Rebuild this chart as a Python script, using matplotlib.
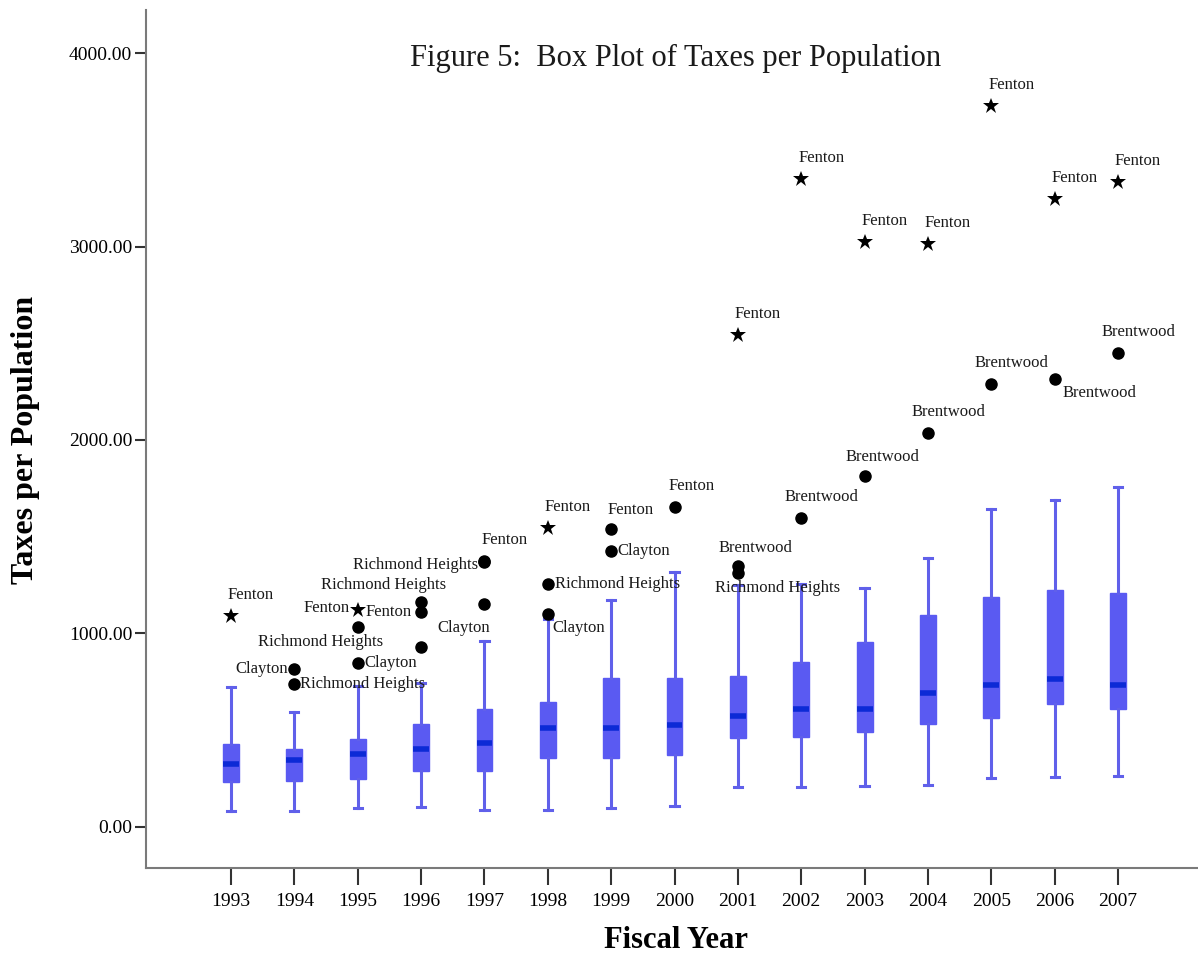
import matplotlib
matplotlib.use("Agg")
import matplotlib.pyplot as plt

years = list(range(1993, 2008))

# box statistics (taxes per population)
whis_lo = [81, 81, 98, 103, 86, 86, 95, 107, 204, 207, 212, 216, 250, 255, 262]
q1 = [230, 238, 247, 288, 290, 354, 357, 371, 457, 466, 488, 531, 561, 633, 607]
medians = [324, 345, 376, 402, 431, 509, 509, 526, 573, 607, 607, 693, 730, 762, 730]
q3 = [428, 400, 454, 531, 609, 643, 768, 768, 780, 851, 954, 1095, 1190, 1225, 1211]
whis_hi = [724, 592, 728, 745, 962, 1075, 1173, 1318, 1250, 1255, 1233, 1388, 1644, 1690, 1759]

# outliers: year, value, kind ('o' outlier, '*' extreme), case label
out_years = [1993, 1994, 1994, 1995, 1995, 1995, 1996, 1996, 1996,
             1997, 1997, 1997, 1998, 1998, 1998, 1999, 1999, 2000,
             2001, 2001, 2001, 2002, 2002, 2003, 2003, 2004, 2004,
             2005, 2005, 2006, 2006, 2007, 2007]
out_values = [1090, 816, 738, 1120, 1035, 848, 1161, 1109, 928,
              1372, 1368, 1150, 1547, 1256, 1100, 1540, 1428, 1655,
              2544, 1349, 1311, 3349, 1595, 3026, 1814, 3014, 2035,
              3725, 2290, 3246, 2316, 3332, 2449]
out_kinds = ['*', 'o', 'o', '*', 'o', 'o', 'o', 'o', 'o',
             'o', 'o', 'o', '*', 'o', 'o', 'o', 'o', 'o',
             '*', 'o', 'o', '*', 'o', '*', 'o', '*', 'o',
             '*', 'o', '*', 'o', '*', 'o']
out_labels = ['Fenton', 'Clayton', 'Richmond Heights', 'Fenton', 'Richmond Heights',
              'Clayton', 'Richmond Heights', 'Fenton', '',
              'Fenton', 'Richmond Heights', 'Clayton', 'Fenton', 'Richmond Heights',
              'Clayton', 'Fenton', 'Clayton', 'Fenton',
              'Fenton', 'Brentwood', 'Richmond Heights', 'Fenton', 'Brentwood',
              'Fenton', 'Brentwood', 'Fenton', 'Brentwood',
              'Fenton', 'Brentwood', 'Fenton', 'Brentwood', 'Fenton', 'Brentwood']

# where each label sits relative to its point (pixels, alignment)
ABOVE = (20, 21, 'center')
label_place = [ABOVE, (-6, 0, 'right'), (6, 0, 'left'), (-8, 2, 'right'), (25, -15, 'right'),
               (7, 0, 'left'), (25, 17, 'right'), (-9, 0, 'right'), ABOVE,
               ABOVE, (-6, -3, 'right'), (-21, -24, 'center'), ABOVE, (7, 0, 'left'),
               (31, -14, 'center'), (19, 19, 'center'), (6, 0, 'left'), (17, 21, 'center'),
               ABOVE, (18, 18, 'center'), (40, -15, 'center'), ABOVE, ABOVE,
               ABOVE, (18, 19, 'center'), ABOVE, ABOVE,
               ABOVE, ABOVE, ABOVE, (45, -14, 'center'), ABOVE, ABOVE]

BOX = '#5a5af2'
MED = '#0c2ad6'
SERIF = ['Liberation Serif', 'DejaVu Serif']

fig = plt.figure(figsize=(11.98, 9.57), dpi=100)
ax = fig.add_axes([146 / 1198, 89 / 957, 1 - 146 / 1198, (868 - 10) / 957])

stats = []
for i, y in enumerate(years):
    stats.append({'label': str(y), 'whislo': whis_lo[i], 'q1': q1[i], 'med': medians[i],
                  'q3': q3[i], 'whishi': whis_hi[i], 'fliers': []})

pos = list(range(1, len(years) + 1))
ax.bxp(stats, positions=pos, widths=0.25, patch_artist=True, showfliers=False,
       boxprops=dict(facecolor=BOX, edgecolor=BOX, linewidth=1),
       whiskerprops=dict(color='#6060ea', linewidth=2.2),
       capprops=dict(color='#6060ea', linewidth=2.2),
       medianprops=dict(color=MED, linewidth=4, solid_capstyle='butt'),
       capwidths=0.13)

for yr, val, kind, lab, (dx, dy, ha) in zip(out_years, out_values, out_kinds,
                                            out_labels, label_place):
    x = yr - 1992
    if kind == '*':
        ax.plot(x, val, marker='*', ms=12, color='black', mew=0, zorder=5)
    else:
        ax.plot(x, val, marker='o', ms=8, color='black', zorder=5)
    if lab:
        ax.annotate(lab, (x, val), xytext=(dx, dy), textcoords='offset pixels',
                    ha=ha, va='center', fontsize=12, family=SERIF, color='#1a1a1a')

ax.set_xlim(1 - 85 / 63.36, 1 + (1198 - 231) / 63.36)
ax.set_ylim(-214, 4224)
ax.set_xticks(pos)
ax.set_xticklabels([str(y) for y in years], family=SERIF, fontsize=14)
ax.set_yticks([0, 1000, 2000, 3000, 4000])
ax.set_yticklabels(['%.2f' % v for v in [0, 1000, 2000, 3000, 4000]],
                   family=SERIF, fontsize=14)

for side in ['top', 'right']:
    ax.spines[side].set_visible(False)
for side in ['left', 'bottom']:
    ax.spines[side].set_color('#7a7a7a')
    ax.spines[side].set_linewidth(1.5)
ax.tick_params(axis='y', length=8, width=1.5, color='#333333', pad=2)
ax.tick_params(axis='x', length=12, width=1.5, color='#333333', pad=6)

fig.text(676 / 1198, 1 - 58 / 957, 'Figure 5:  Box Plot of Taxes per Population',
         ha='center', va='center', fontsize=22, family=SERIF, color='#1a1a1a')
fig.text(26 / 1198, 1 - 440 / 957, 'Taxes per Population', rotation=90,
         ha='center', va='center', fontsize=23, fontweight='bold', family=SERIF)
fig.text(676 / 1198, 1 - 940 / 957, 'Fiscal Year', ha='center', va='center',
         fontsize=22, fontweight='bold', family=SERIF)

fig.savefig('out.png', dpi=100)
